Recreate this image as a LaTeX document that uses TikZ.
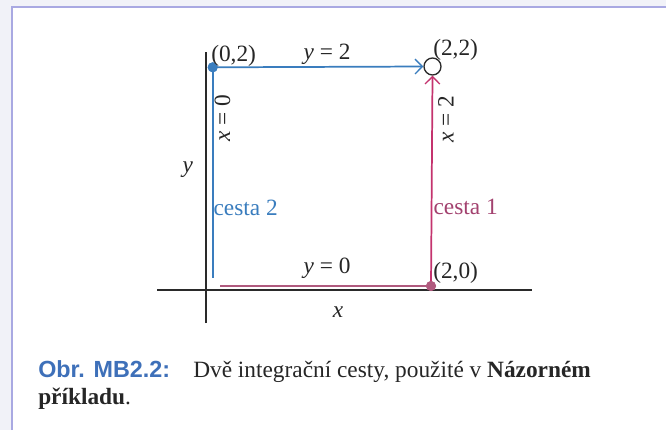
\documentclass[tikz,border=0pt]{standalone}
\usepackage{fontspec}
\setmainfont{Liberation Serif}
\newfontfamily\capsans{Liberation Sans}
\usetikzlibrary{arrows.meta}
\definecolor{bgout}{HTML}{F1F2F8}
\definecolor{framec}{HTML}{A9A9E2}
\definecolor{pathblue}{HTML}{3A7DBE}
\definecolor{pathred}{HTML}{C4336E}
\definecolor{pathmauve}{HTML}{B05A7E}
\definecolor{txtred}{HTML}{A3426F}
\definecolor{capblue}{HTML}{3E70B9}
\definecolor{axisc}{HTML}{2A2A2A}
\definecolor{txt}{HTML}{262626}
\tikzset{
  axisline/.style={draw=axisc, line width=1pt},
  bluepath/.style={draw=pathblue, line width=1.3pt},
  redpath/.style={draw=pathred, line width=1.3pt},
  mauvepath/.style={draw=pathmauve, line width=1.5pt},
  tip/.style={-{Straight Barb[length=5.5pt,width=11pt,line width=1pt]}},
  lbl/.style={text=txt, inner sep=0pt},
  bigfont/.style={font=\fontsize{17.5}{20}\selectfont},
}
\begin{document}
\begin{tikzpicture}[x=0.75pt,y=0.75pt,bigfont]
\useasboundingbox (0,0) rectangle (666,-430);
\fill[bgout] (0,0) rectangle (666,-430);
\fill[white] (12,-7) rectangle (666,-430);
\draw[framec, line width=1.5pt] (12,-430) -- (12,-7) -- (666,-7);

% axes
\coordinate (yt) at (206,-52);
\coordinate (yb) at (206,-323);
\coordinate (xl) at (157,-290);
\coordinate (xr) at (532,-290);
\draw[axisline] (yb) -- (yt);
\draw[axisline] (xl) -- (xr);

% points
\node[circle, fill=pathblue, inner sep=0pt, minimum size=10pt*0.75] (p02) at (212.7,-67.3) {};
\node[circle, draw=axisc, fill=white, line width=1pt, inner sep=0pt, minimum size=17pt*0.75] (p22) at (432.5,-66.5) {};
\node[circle, fill=pathmauve, inner sep=0pt, minimum size=10pt*0.75] (p20) at (431,-286) {};
\coordinate (b0) at (212.7,-278);
\coordinate (m0) at (220,-286);

% paths
\draw[bluepath] (p02.center) -- (b0);
\draw[bluepath, tip] (p02.center) -- (p22.west);
\draw[mauvepath] (m0) -- (p20.center);
\draw[redpath, tip] (p20.center) -- (p22.south);
\node[circle, fill=pathmauve, inner sep=0pt, minimum size=10pt*0.75] at (p20) {};
\node[circle, fill=pathblue, inner sep=0pt, minimum size=10pt*0.75] at (p02) {};

% labels
\node[lbl, anchor=west] (l02) at (211,-56) {(0,2)};
\node[lbl] (ly2) at (327,-54) {\textit{y} = 2};
\node[lbl, anchor=west] (l22) at (433,-50) {(2,2)};
\node[lbl, rotate=90] (lx0) at (222.5,-118) {\textit{x} = 0};
\node[lbl, rotate=90] (lx2) at (446,-119) {\textit{x} = 2};
\node[lbl] (ly) at (187.7,-170) {\textit{y}};
\node[inner sep=0pt, anchor=west, text=pathblue] (c2) at (213.3,-208) {cesta 2};
\node[inner sep=0pt, anchor=west, text=txtred] (c1) at (433.3,-207) {cesta 1};
\node[lbl] (ly0) at (327,-268) {\textit{y} = 0};
\node[lbl, anchor=west] (l20) at (433,-273) {(2,0)};
\node[lbl] (lx) at (338,-311.7) {\textit{x}};

% caption
\node[inner sep=0pt, anchor=base west, text=capblue] (cap) at (38,-377) {\capsans\bfseries Obr. MB2.2:};
\node[lbl, anchor=base west] (capt) at (193,-377) {Dvě integrační cesty, použité v \textbf{Názorném}};
\node[lbl, anchor=base west] (capt2) at (38,-404) {\textbf{příkladu}.};
\end{tikzpicture}
\end{document}
